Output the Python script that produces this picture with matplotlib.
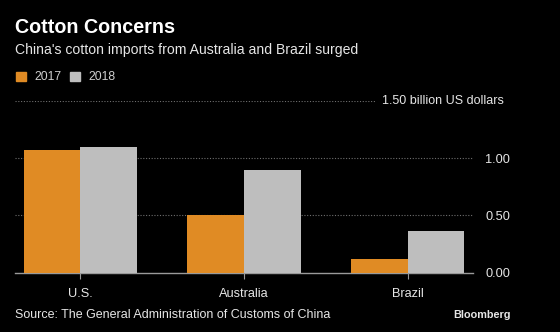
import matplotlib

matplotlib.use("Agg")
import matplotlib.pyplot as plt
import numpy as np

plt.rcParams["font.family"] = ["Liberation Sans", "DejaVu Sans"]

COUNTRIES = ["U.S.", "Australia", "Brazil"]
VALUES_2017 = [1.07, 0.50, 0.12]
VALUES_2018 = [1.10, 0.90, 0.36]
YEARS = ["2017", "2018"]
Y_TICKS = [0.0, 0.5, 1.0]

BG = "#000000"
ORANGE = "#E08B24"
GRAY = "#BEBEBE"
TEXT = "#E6E6E6"
GRID = "#6E6E6E"

fig = plt.figure(figsize=(5.6, 3.32), dpi=100, facecolor=BG)
ax = fig.add_axes([15 / 560, 59.5 / 332, 458 / 560, 171.5 / 332])
ax.set_facecolor(BG)

x = np.arange(len(COUNTRIES))
w = 0.347
ax.bar(x - w / 2, VALUES_2017, width=w, color=ORANGE, zorder=3)
ax.bar(x + w / 2, VALUES_2018, width=w, color=GRAY, zorder=3)

ax.set_xlim(-0.4, 2.4)
ax.set_ylim(0, 1.5)

for y in Y_TICKS[1:]:
    ax.axhline(y, color=GRID, lw=0.8, ls=(0, (1, 1.5)), zorder=1)
ax.axhline(1.5, xmax=(375 - 15) / 458, color=GRID, lw=0.8, ls=(0, (1, 1.5)), zorder=1)

for s in ["top", "left", "right"]:
    ax.spines[s].set_visible(False)
ax.spines["bottom"].set_color("#9A9A9A")
ax.spines["bottom"].set_linewidth(1)

ax.set_xticks(x)
ax.set_xticklabels(COUNTRIES, fontsize=9.2, color=TEXT)
ax.tick_params(axis="x", length=4, color="#9A9A9A", pad=7)

ax.yaxis.tick_right()
ax.set_yticks(Y_TICKS)
ax.set_yticklabels([f"{v:.2f}" for v in Y_TICKS], fontsize=9.2, color=TEXT)
ax.tick_params(axis="y", length=0, pad=9)
ax.text(504 / 560, 1 - 101 / 332, "1.50 billion US dollars", transform=fig.transFigure,
        fontsize=9, color=TEXT, va="center", ha="right")

fig.text(15 / 560, 1 - 33 / 332, "Cotton Concerns", fontsize=14.2, fontweight="bold",
         color="white", va="baseline")
fig.text(15 / 560, 1 - 54 / 332, "China's cotton imports from Australia and Brazil surged",
         fontsize=10.1, color=TEXT, va="baseline")

# legend
for i, (yr, col) in enumerate(zip(YEARS, [ORANGE, GRAY])):
    x0 = 16 + i * 54
    fig.patches.append(plt.Rectangle((x0 / 560, 1 - 81.5 / 332), 9.5 / 560, 9 / 332,
                                     transform=fig.transFigure, color=col))
    fig.text((x0 + 18) / 560, 1 - 77 / 332, yr, fontsize=8.8, color="#CFCFCF", va="center")

fig.text(15 / 560, 1 - 318 / 332, "Source: The General Administration of Customs of China",
         fontsize=9, color=TEXT, va="baseline")
fig.text(511 / 560, 1 - 318 / 332, "Bloomberg", fontsize=7.8, fontweight="bold",
         color=TEXT, ha="right", va="baseline")

fig.savefig("out.png", dpi=100, facecolor=BG)
